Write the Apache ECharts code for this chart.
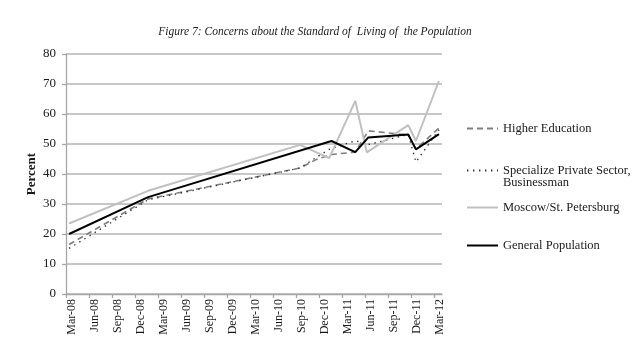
<!DOCTYPE html>
<html>
<head>
<meta charset="utf-8">
<script src="https://cdn.jsdelivr.net/npm/echarts@6.0.0/dist/echarts.min.js"></script>
<style>
  html, body { margin: 0; padding: 0; background: #ffffff; }
  #chart { width: 640px; height: 364px; }
</style>
</head>
<body>
<div id="chart"></div>
<script>
// Tick labels of the quarterly date axis (months counted from Mar-08)
const tickLabels = ['Mar-08','Jun-08','Sep-08','Dec-08','Mar-09','Jun-09','Sep-09','Dec-09','Mar-10','Jun-10','Sep-10','Dec-10','Mar-11','Jun-11','Sep-11','Dec-11','Mar-12'];
const yTicks = [0, 10, 20, 30, 40, 50, 60, 70, 80];

// Series: survey position (months since Mar-08) and percent values
const higherEdMonths = [0.4, 10.7, 30.5, 32.6, 34.6, 37.7, 39.4, 44.6, 45.6, 48.6];
const higherEdValues = [16.5, 31.7, 42.0, 44.8, 46.5, 47.3, 54.4, 53.0, 48.4, 55.3];

const privateMonths = [0.4, 10.7, 30.5, 32.3, 34.3, 37.7, 39.4, 44.6, 45.6, 48.6];
const privateValues = [15.2, 31.4, 42.0, 45.0, 48.2, 51.1, 49.8, 53.2, 44.0, 54.7];

const moscowMonths = [0.4, 10.7, 30.5, 34.3, 37.7, 39.2, 44.6, 45.6, 48.6];
const moscowValues = [23.5, 34.4, 49.7, 45.3, 64.4, 47.2, 56.3, 51.0, 71.0];

const generalMonths = [0.4, 10.7, 34.6, 37.7, 39.4, 44.6, 45.6, 48.6];
const generalValues = [20.0, 32.3, 51.0, 47.3, 52.2, 53.2, 48.2, 53.3];

const seriesNames = ['Higher Education', 'Specialize Private Sector, Businessman', 'Moscow/St. Petersburg', 'General Population'];

function pairs(ms, vs) { return ms.map((m, i) => [m, vs[i]]); }

const tickValues = tickLabels.map((_, i) => i * 3);
const serif = 'Liberation Serif';

const chart = echarts.init(document.getElementById('chart'), null, { renderer: 'canvas' });

function legendItem(name, top, extra) {
  return Object.assign({
    data: [name],
    orient: 'vertical',
    left: 466,
    top: top,
    padding: 0,
    itemWidth: 31,
    itemHeight: 10,
    selectedMode: false,
    itemStyle: { opacity: 0 },
    textStyle: { fontFamily: serif, fontSize: 12.5, color: '#1a1a1a' }
  }, extra || {});
}

chart.setOption({
  backgroundColor: '#ffffff',
  animation: false,
  graphic: [{
    type: 'text',
    x: 315,
    y: 32,
    style: {
      text: 'Figure 7: Concerns about the Standard of  Living of  the Population',
      fontFamily: serif,
      fontStyle: 'italic',
      fontSize: 11.5,
      fill: '#1a1a1a',
      textAlign: 'center',
      textVerticalAlign: 'middle'
    }
  }],
  legend: [
    legendItem(seriesNames[0], 122),
    legendItem(seriesNames[1], 152, {
      formatter: () => ' \nSpecialize Private Sector,\nBusinessman',
      textStyle: { fontFamily: serif, fontSize: 12.5, color: '#1a1a1a', lineHeight: 12 }
    }),
    legendItem(seriesNames[2], 201),
    legendItem(seriesNames[3], 239)
  ],
  grid: { left: 66, right: 198, top: 54, bottom: 70, containLabel: false },
  xAxis: {
    type: 'value',
    min: 0,
    max: 49,
    interval: 3,
    axisLine: { show: true, lineStyle: { color: '#a6a6a6', width: 1.3 } },
    axisTick: { show: true, length: 4, customValues: tickValues, lineStyle: { color: '#a6a6a6', width: 1.3 } },
    splitLine: { show: false },
    axisLabel: {
      customValues: tickValues,
      rotate: 90,
      margin: 5,
      verticalAlign: 'top',
      fontFamily: serif,
      fontSize: 12,
      color: '#1a1a1a',
      formatter: (v) => tickLabels[Math.round(v / 3)]
    }
  },
  yAxis: {
    type: 'value',
    min: yTicks[0],
    max: yTicks[yTicks.length - 1],
    interval: 10,
    name: 'Percent',
    nameLocation: 'middle',
    nameGap: 28,
    nameMoveOverlap: false,
    nameTextStyle: { fontFamily: serif, fontSize: 13, fontWeight: 'bold', color: '#1a1a1a' },
    axisLine: { show: true, lineStyle: { color: '#a6a6a6', width: 1.3 } },
    axisTick: { show: true, length: 4, lineStyle: { color: '#a6a6a6', width: 1.3 } },
    splitLine: { show: true, lineStyle: { color: '#b5b5b5', width: 1.5 } },
    axisLabel: { margin: 10, fontFamily: serif, fontSize: 13, color: '#1a1a1a' }
  },
  series: [
    {
      name: seriesNames[0], type: 'line', symbol: 'none',
      data: pairs(higherEdMonths, higherEdValues),
      itemStyle: { color: '#7f7f7f' },
      lineStyle: { color: '#7f7f7f', width: 1.6, type: [6, 4] }
    },
    {
      name: seriesNames[1], type: 'line', symbol: 'none',
      data: pairs(privateMonths, privateValues),
      itemStyle: { color: '#333333' },
      lineStyle: { color: '#333333', width: 1.4, type: [1.4, 4.6] }
    },
    {
      name: seriesNames[2], type: 'line', symbol: 'none',
      data: pairs(moscowMonths, moscowValues),
      itemStyle: { color: '#c0c0c0' },
      lineStyle: { color: '#c0c0c0', width: 2 }
    },
    {
      name: seriesNames[3], type: 'line', symbol: 'none',
      data: pairs(generalMonths, generalValues),
      itemStyle: { color: '#000000' },
      lineStyle: { color: '#000000', width: 2 }
    }
  ]
});
</script>
</body>
</html>
